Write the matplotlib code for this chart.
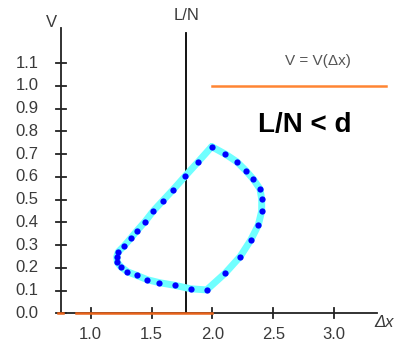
import matplotlib.pyplot as plt

# curve V(dx) (closed loop)
dx = [1.994, 2.104, 2.200, 2.276, 2.336, 2.391, 2.405, 2.405, 2.377, 2.315,
      2.227, 2.104, 1.953, 1.822, 1.693, 1.564, 1.465, 1.378, 1.301, 1.247,
      1.219, 1.214, 1.227, 1.274, 1.329, 1.378, 1.446, 1.514, 1.592, 1.674,
      1.777, 1.879]
v = [0.733, 0.701, 0.667, 0.627, 0.590, 0.547, 0.502, 0.450, 0.388, 0.322,
     0.249, 0.176, 0.103, 0.108, 0.123, 0.135, 0.148, 0.167, 0.183, 0.205,
     0.224, 0.249, 0.271, 0.296, 0.330, 0.362, 0.403, 0.450, 0.495, 0.542,
     0.604, 0.664]

x_ticks = [1.0, 1.5, 2.0, 2.5, 3.0]
y_ticks = [0.0, 0.1, 0.2, 0.3, 0.4, 0.5, 0.6, 0.7, 0.8, 0.9, 1.0, 1.1]
ln = 1.787          # L/N
v_level = 1.0       # V = V(dx) reference line
v_range = [2.0, 3.43]
zero_range = [0.877, 2.0]

x0, y0 = 0.754, 0.0     # axis crossing
x_end, y_end = 3.35, 1.255

plt.rcParams['font.family'] = ['Liberation Sans', 'DejaVu Sans']
fig = plt.figure(figsize=(3.98, 3.47), dpi=100)
ax = fig.add_axes([0, 0, 1, 1])
ax.set_xlim(0.2547, 3.525)
ax.set_ylim(-0.148, 1.378)
ax.axis("off")

txt = "#3a3a3a"

# axes
ax.plot([x0, x_end], [y0, y0], color="#222222", lw=1.3, zorder=2)
ax.plot([x0, x0], [y0, y_end], color="#222222", lw=1.3, zorder=2)
for t in x_ticks:
    ax.plot([t, t], [-0.022, 0.022], color="#222222", lw=1.3, zorder=2)
    ax.text(t, -0.095, f"{t:.1f}", ha="center", va="center", fontsize=12, color=txt)
for t in y_ticks:
    ax.plot([x0 - 0.04, x0 + 0.04], [t, t], color="#222222", lw=1.3, zorder=2)
    ax.text(x0 - 0.18, t, f"{t:.1f}", ha="right", va="center", fontsize=12, color=txt)
ax.text(x0 - 0.08, 1.28, "V", ha="center", va="center", fontsize=12, color=txt)
ax.text(3.41, -0.04, "Δx", ha="center", va="center", fontsize=12, color=txt,
        style="italic")

# L/N line
ax.plot([ln, ln], [y0, 1.235], color="black", lw=1.3, zorder=3)
ax.text(ln, 1.31, "L/N", ha="center", va="center", fontsize=12, color=txt)

# orange lines
ax.plot(v_range, [v_level, v_level], color="#ff8533", lw=1.8, zorder=3)
ax.plot(zero_range, [0, 0], color="#e8621a", lw=1.8, zorder=3)
ax.plot([x0 - 0.02, x0 + 0.02], [0, 0], color="#e8621a", lw=1.8, zorder=3)
ax.text(2.87, 1.11, "V = V(Δx)", ha="center", va="center", fontsize=11, color="#555555")
ax.text(2.76, 0.83, "L/N < d", ha="center", va="center", fontsize=20,
        fontweight="bold", color="black")

# curve
ax.plot(dx + dx[:1], v + v[:1], color="#70ffff", lw=5, solid_capstyle="round",
        solid_joinstyle="round", zorder=4)
ax.plot(dx, v, "o", color="#0000ff", ms=4.5, mec="none", zorder=5)

fig.savefig("out.png", dpi=100, facecolor="white")
